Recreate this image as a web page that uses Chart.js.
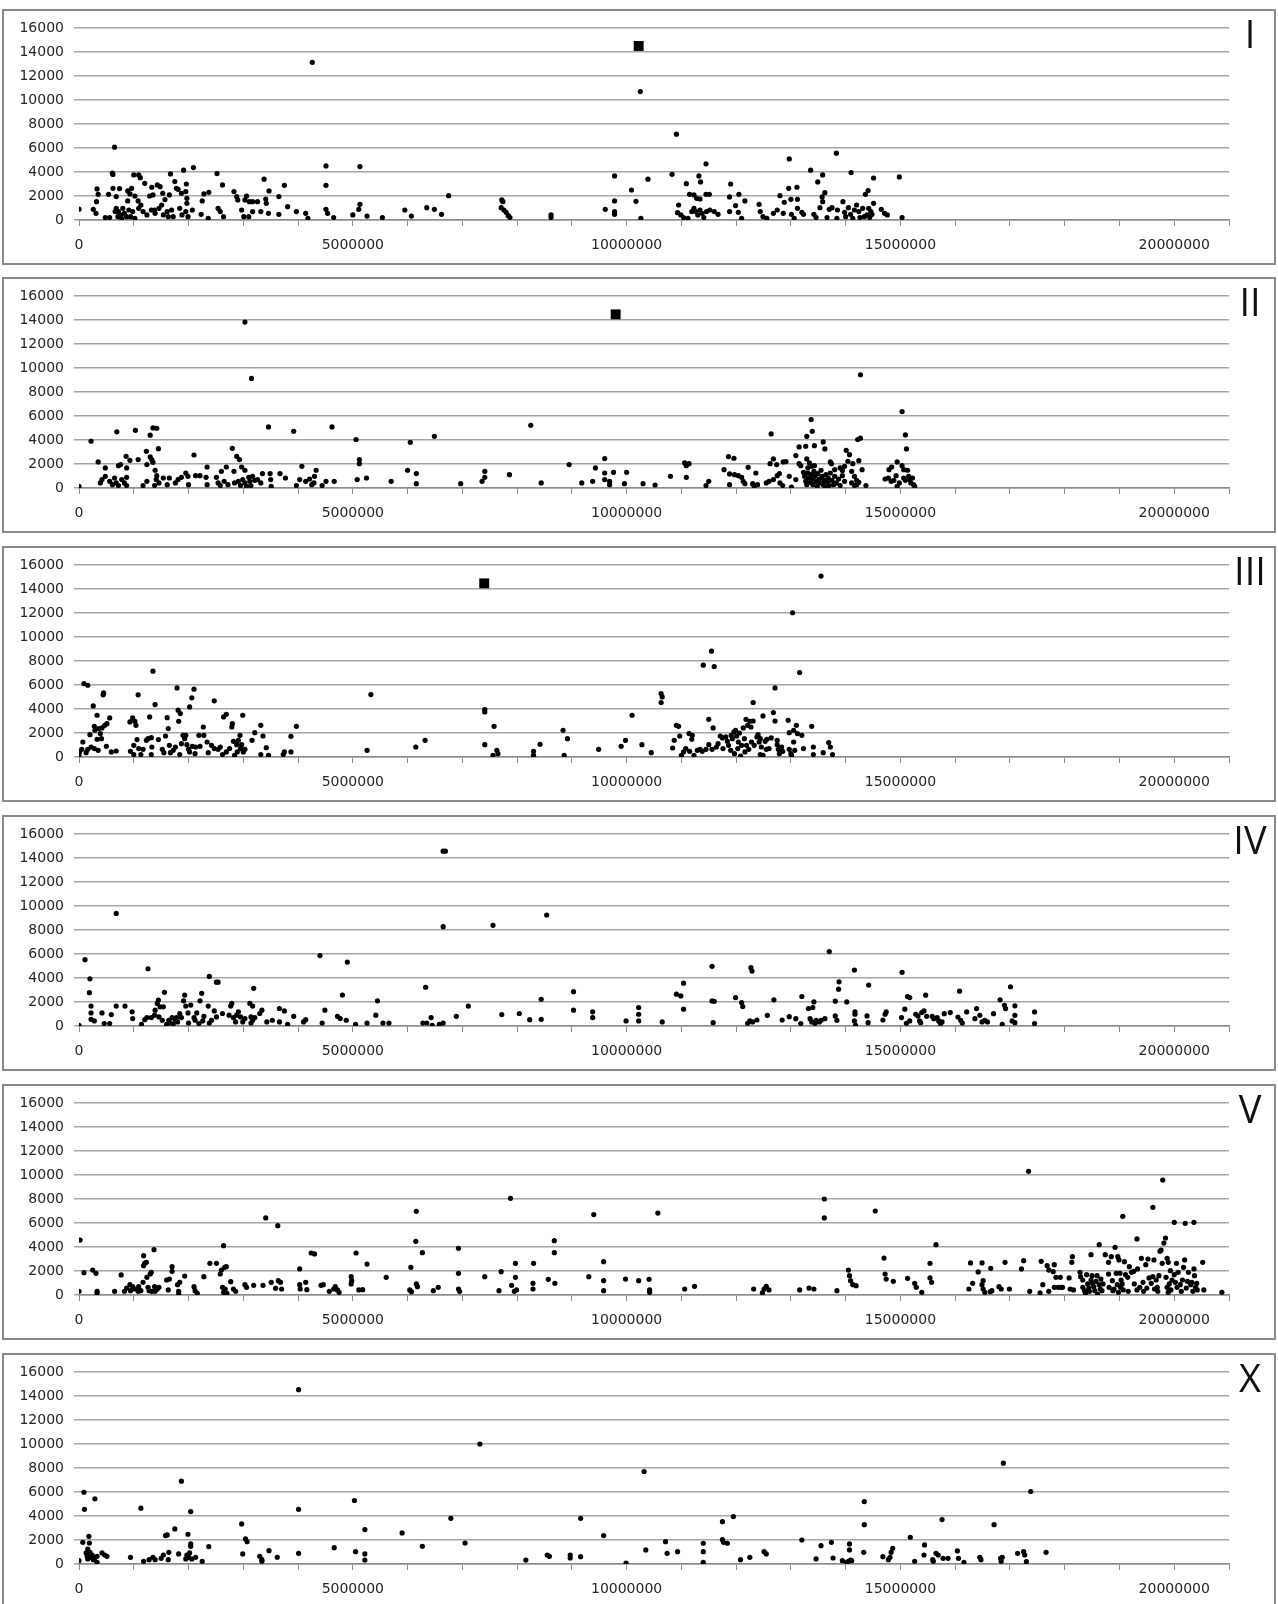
<!DOCTYPE html>
<html>
<head>
<meta charset="utf-8">
<script src="https://cdn.jsdelivr.net/npm/chart.js@4.4.0/dist/chart.umd.min.js"></script>
<style>
  body { margin: 0; background: #fff; width: 1278px; height: 1604px; position: relative; overflow: hidden; }
  .box { position: absolute; left: 2px; width: 1274px; height: 256px; box-sizing: border-box; border: 2px solid #8a8a8a; }
  canvas.plot { position: absolute; left: 3px; }
  .tag { position: absolute; left: 1215px; width: 70px; text-align: center; font-family: "Open Sans", sans-serif;
         font-size: 38px; line-height: 38px; color: #111; }
</style>
</head>
<body>
<script>
// positions are in megabases (Mb)
const xLabels = [0, 5000000, 10000000, 15000000, 20000000];
const yTicks = [0, 2000, 4000, 6000, 8000, 10000, 12000, 14000, 16000];
const panelNames = ['I', 'II', 'III', 'IV', 'V', 'X'];

const chrI = [
  [0,900],[0.65,6070],[0.61,3900],[0.62,3800],[0.33,2590],[0.35,2140],[0.32,1530],[0.26,890],[0.31,560],[0.48,200],[0.56,200],[0.54,2140],[0.62,2640],[0.68,1950],[0.74,2620],
  [0.68,970],[0.72,700],[0.76,420],[0.8,970],[0.83,560],[0.87,280],[0.71,280],[0.78,140],[0.91,835],[0.94,280],[0.98,700],[1.02,140],[0.66,700],
  [0.89,2420],[0.93,2170],[0.89,1590],[0.96,2640],[1.0,3760],[1.09,3760],[1.12,3530],[1.02,2000],[1.08,1590],[1.13,1250],[1.09,970],[1.2,3060],[1.29,2000],[1.35,2090],[1.33,2730],[1.43,2920],[1.48,2780],[1.53,2230],[1.51,1250],[1.57,1700],[1.65,2090],[1.67,3840],[1.75,3200],[1.78,2640],[1.81,2560],[1.87,2230],[1.91,4150],[1.96,3000],[1.95,2370],[1.97,1810],[1.97,1390],[2.09,4370],[2.07,835],
  [1.17,700],[1.24,420],[1.32,835],[1.39,560],[1.46,970],[1.54,420],[1.61,700],[1.69,835],[1.72,280],[1.84,970],[1.88,420],[1.95,700],[1.99,280],[1.38,835],[1.63,280],
  [2.25,1590],[2.28,2170],[2.37,2310],[2.23,470],[2.36,140],[2.52,3870],[2.62,2920],[2.54,970],[2.58,700],[2.64,280],[2.83,2370],[2.88,1950],[2.9,1670],[2.97,835],[3.01,280],[3.03,1670],[3.06,2000],[3.11,1530],[3.17,1530],[3.26,1530],[3.1,280],[3.17,700],[3.32,700],[3.38,3400],[3.41,1750],[3.42,1390],[3.47,2420],[3.46,560],[3.65,1950],[3.65,470],[3.75,2890],[3.81,1110],[3.97,700],[4.14,560],[4.18,140],[4.26,13140],
  [4.51,4510],[4.51,2890],[4.51,890],[4.54,560],[4.65,200],[5.0,420],[5.11,890],[5.13,1310],[5.13,4450],[5.26,330],[5.54,200],[5.95,835],[6.07,330],[6.35,1030],[6.49,890],[6.62,470],[6.75,2030],
  [7.72,1670],[7.74,1530],[7.71,1030],[7.76,835],[7.8,640],[7.84,360],[7.87,200],[8.62,420],[8.62,200],[9.61,890],[9.78,3670],[9.78,1590],[9.78,700],[9.78,470],[10.09,2500],[10.17,1560],[10.25,10700],[10.26,140],[10.39,3400],
  [10.91,7150],[10.83,3810],[10.95,1250],[10.93,610],[10.99,420],[11.04,200],[11.09,3030],[11.15,2140],[11.23,2090],[11.28,1810],[11.32,3670],[11.35,3170],[11.45,4680],[11.45,2140],[11.51,2140],[11.34,1750],[11.23,970],[11.26,700],[11.3,420],[11.34,835],[11.38,560],[11.41,200],[11.46,700],[11.52,835],[11.6,700],[11.67,470],[11.19,700],[11.12,140],
  [11.9,3000],[11.88,1920],[11.99,1200],[12.05,2140],[12.16,1590],[11.88,700],[12.04,640],[12.1,140],[12.42,1310],[12.44,700],[12.49,280],[12.56,140],[12.68,560],[12.75,835],[12.8,2030],[12.88,1480],[12.86,560],[12.97,5090],[12.96,2640],[13.0,1725],[13.11,2730],[13.12,1725],[13.06,140],[13.01,470],[13.12,970],[13.2,640],[13.23,470],
  [13.36,4150],[13.49,3170],[13.58,3760],[13.57,1920],[13.62,2280],[13.58,1530],[13.53,1030],[13.42,470],[13.46,200],[13.66,200],[13.7,890],[13.75,1030],[13.83,5570],[13.85,835],[13.84,140],[13.95,1530],[13.98,640],[14.05,1030],[14.1,3950],[14.09,470],[14.16,835],[14.2,1250],[14.24,700],[14.31,970],[14.36,2140],[14.41,2450],[14.39,420],[14.42,970],[14.51,3500],[14.51,1390],[14.46,700],[14.65,890],[14.71,560],[14.76,420],[14.98,3590],[15.03,200],
  [14.0,280],[14.13,140],[14.26,200],[14.34,280],[14.44,200],[14.48,470]
];
const chrII = [
  [0,140],[0.22,3900],[0.35,2170],[0.39,420],[0.42,700],[0.48,970],[0.48,1670],[0.56,560],[0.61,280],[0.65,835],[0.69,4680],[0.72,1860],[0.76,1950],[0.68,420],[0.72,200],[0.78,700],[0.83,420],[0.86,2640],[0.87,1670],[0.87,890],[0.87,200],[0.93,2310],[1.03,4810],[1.08,2370],[1.17,200],[1.23,3060],[1.24,1950],[1.24,560],[1.3,4400],[1.3,2590],[1.33,2370],[1.35,5010],[1.35,2140],[1.39,1480],[1.42,4980],[1.45,3280],[1.42,1030],[1.38,200],[1.41,700],[1.46,420],
  [1.54,835],[1.61,280],[1.65,835],[1.76,420],[1.81,700],[1.87,890],[1.95,1250],[1.99,970],[2.0,280],[2.1,2750],[2.13,1030],[2.21,1030],[2.34,1750],[2.34,280],[2.32,890],[2.51,890],[2.54,420],[2.6,1390],[2.69,1750],[2.58,200],[2.65,560],[2.72,280],[2.8,3310],[2.83,1390],[2.88,2640],[2.93,2370],[2.97,1750],[3.03,1480],[3.03,13830],[3.15,9130],
  [2.84,420],[2.91,560],[2.95,200],[2.99,700],[3.03,420],[3.06,140],[3.1,890],[3.12,560],[3.14,200],[3.17,970],[3.21,640],[3.26,700],[3.32,420],[3.35,1200],[3.46,5090],[3.49,1200],[3.5,700],[3.51,140],[3.67,1200],[3.77,835],[3.92,4730],[3.97,200],[4.03,700],[4.07,1810],[4.14,560],[4.21,750],[4.25,280],[4.29,420],[4.33,1480],[4.3,970],[4.44,200],[4.51,560],[4.62,5090],[4.66,560],
  [5.06,4040],[5.08,700],[5.12,2370],[5.12,2030],[5.25,835],[5.7,560],[6.0,1480],[6.05,3810],[6.16,1200],[6.16,360],[6.49,4310],[6.97,360],[7.36,560],[7.41,1390],[7.41,890],[7.86,1110],[8.25,5230],[8.44,420],[8.95,1950],[9.18,420],[9.38,560],[9.43,1670],[9.6,2450],[9.6,1250],[9.6,700],[9.69,560],[9.69,280],[9.76,1310],[9.96,360],[10.0,1310],
  [10.3,360],[10.52,250],[10.8,970],[11.06,2090],[11.09,1860],[11.14,2030],[11.09,890],[11.45,200],[11.5,560],[11.78,1530],[11.86,2620],[11.96,2480],[11.88,1170],[11.88,280],[11.97,1110],[12.04,1030],[12.1,890],[12.13,560],[12.16,360],[12.22,1725],[12.3,360],[12.33,140],[12.36,1250],[12.39,280],
  [12.55,420],[12.6,560],[12.64,4510],[12.62,2030],[12.68,2420],[12.74,1950],[12.68,700],[12.75,1030],[12.79,1200],[12.8,420],[12.85,200],[12.86,2170],[12.91,2200],[12.97,970],[13.01,80],[13.09,2700],[13.15,3420],[13.15,2030],[13.18,1860],[13.09,700],[13.23,1310],[13.29,4310],[13.27,3480],[13.29,2420],[13.31,1670],[13.37,5710],[13.39,4730],[13.43,3530],[13.34,2090],[13.38,1810],[13.43,1860],
  [13.25,970],[13.27,560],[13.29,280],[13.31,1250],[13.32,835],[13.35,470],[13.37,1110],[13.38,700],[13.4,280],[13.42,1390],[13.44,970],[13.46,560],[13.48,140],[13.49,1200],[13.52,750],[13.53,420],[13.55,1480],[13.57,970],[13.59,280],[13.61,640],[13.63,80],[13.64,1110],[13.67,470],[13.68,835],[13.7,200],[13.72,1250],[13.75,640],[13.78,280],[13.8,970],[13.83,420],[13.87,750],[13.9,200],[13.94,1030],[13.98,560],
  [13.59,3840],[13.62,3260],[13.72,2170],[13.74,2030],[13.8,1530],[13.9,1670],[13.94,1450],[13.98,1810],[14.01,3140],[14.07,2780],[14.04,2230],[14.11,1390],[14.13,2030],[14.16,970],[14.2,640],[14.22,4040],[14.27,4150],[14.24,2280],[14.27,9430],[14.3,1530],[14.11,420],[14.16,200],[14.2,280],[14.24,470],[14.37,200],
  [14.72,750],[14.78,835],[14.79,1530],[14.84,1750],[14.83,560],[14.88,640],[14.94,2170],[14.92,1030],[14.94,140],[14.98,420],[15.03,6370],[15.03,1860],[15.06,1530],[15.06,835],[15.09,4420],[15.11,3260],[15.09,640],[15.13,1480],[15.15,970],[15.17,700],[15.19,420],[15.22,835],[15.24,280],[15.26,140]
];
const chrIII = [
  [0,140],[0.01,420],[0.05,640],[0.07,1250],[0.09,6120],[0.13,360],[0.16,5980],[0.16,640],[0.2,1860],[0.22,835],[0.26,4260],[0.28,700],[0.28,2560],[0.29,2230],[0.33,3480],[0.33,1480],[0.35,560],[0.36,2370],[0.39,1950],[0.41,1530],[0.42,2420],[0.44,5180],[0.45,5340],[0.47,2640],[0.51,2780],[0.5,890],[0.56,3260],[0.59,420],[0.68,500],
  [0.93,2920],[0.98,3260],[1.0,970],[1.02,2980],[1.04,2640],[0.94,470],[1.0,200],[1.06,1450],[1.08,5180],[1.09,700],[1.13,200],[1.17,640],[1.23,1390],[1.26,1530],[1.29,3340],[1.32,1610],[1.35,7150],[1.39,4370],[1.33,835],[1.32,200],[1.45,1450],[1.52,640],[1.55,360],[1.58,1750],[1.61,3280],[1.63,2370],[1.65,970],[1.67,360],[1.72,560],[1.76,835],
  [1.79,5760],[1.81,3900],[1.82,2980],[1.85,3620],[1.84,200],[1.87,1110],[1.9,1810],[1.93,1530],[1.95,1810],[1.97,1030],[2.0,640],[2.02,4170],[2.02,420],[2.06,4930],[2.1,5650],[2.07,890],[2.12,280],[2.13,835],[2.19,1810],[2.21,890],[2.27,2500],[2.28,1810],[2.34,1250],[2.36,360],[2.42,970],[2.47,4680],[2.47,700],[2.54,640],[2.58,835],[2.62,200],
  [2.64,3340],[2.69,3560],[2.69,420],[2.75,700],[2.79,2500],[2.8,2780],[2.82,1310],[2.84,140],[2.88,1030],[2.89,420],[2.91,1390],[2.94,1810],[2.95,700],[2.97,1030],[2.99,3480],[3.0,420],[3.03,640],[3.16,1390],[3.21,2030],[3.32,200],[3.32,2640],[3.36,1750],[3.42,780],[3.46,140],[3.73,200],[3.75,420],[3.87,1725],[3.87,420],[3.97,2560],
  [5.26,560],[5.33,5200],[6.15,835],[6.32,1390],[7.41,3950],[7.41,3760],[7.41,1030],[7.58,2560],[7.56,140],[7.63,560],[7.65,280],[8.3,470],[8.3,140],[8.42,1060],[8.84,2230],[8.92,1530],[8.86,140],[9.49,640],[9.9,890],[10.1,3480],[9.98,1390],
  [10.28,1030],[10.45,360],[10.63,5290],[10.63,4540],[10.65,5010],[10.84,750],[10.87,1390],[10.91,2640],[10.95,2560],[10.97,1750],[11.0,140],[11.04,420],[11.08,700],[11.14,1950],[11.15,470],[11.19,1480],[11.2,1810],[11.23,140],[11.29,560],[11.34,640],[11.4,7650],[11.38,470],[11.45,640],[11.5,3140],[11.5,1030],[11.55,8820],[11.58,2420],[11.6,7540],[11.56,640],
  [11.64,835],[11.67,1110],[11.71,1750],[11.75,1590],[11.76,700],[11.81,1670],[11.84,1310],[11.86,970],[11.9,560],[11.91,1810],[11.93,1530],[11.96,2090],[11.97,280],[11.99,2230],[12.01,1750],[12.03,700],[12.04,1250],[12.06,2000],[12.08,80],[12.1,970],[12.13,2420],[12.15,1530],[12.16,420],[12.18,3140],[12.19,970],[12.21,2640],[12.23,640],[12.25,2980],[12.27,2500],[12.28,1250],[12.31,4540],[12.31,3000],[12.33,970],
  [12.38,1670],[12.4,1860],[12.42,1250],[12.44,1530],[12.46,835],[12.44,200],[12.49,3420],[12.49,140],[12.53,1310],[12.55,640],[12.56,1480],[12.6,700],[12.64,1590],[12.68,3700],[12.71,5760],[12.71,3000],[12.75,1390],[12.75,1030],[12.77,640],[12.79,280],[12.83,835],[12.85,470],[12.95,3060],[12.97,2030],[12.97,640],[13.0,280],[13.01,140],[13.03,12020],[13.05,2230],[13.05,1250],[13.07,560],[13.1,2640],[13.12,1950],[13.16,7040],[13.2,1810],[13.23,700],
  [13.38,2560],[13.41,835],[13.41,200],[13.55,15080],[13.59,360],[13.69,1200],[13.72,835],[13.76,200]
];
const chrIV = [
  [0,60],[0.11,5530],[0.2,3930],[0.19,2780],[0.22,1660],[0.22,1090],[0.22,560],[0.28,420],[0.42,1090],[0.46,200],[0.56,200],[0.59,950],[0.68,9380],[0.68,1660],[0.84,1660],[0.97,1180],[0.98,620],[1.14,140],[1.2,530],[1.24,700],[1.26,4770],[1.32,700],[1.38,900],[1.39,1320],[1.43,1880],[1.45,2160],[1.46,760],[1.48,1600],[1.52,480],[1.54,1600],[1.56,2810],[1.6,140],[1.64,480],[1.67,250],[1.7,700],[1.72,140],[1.76,480],[1.78,700],[1.8,340],[1.84,1040],[1.87,700],
  [1.91,2100],[1.93,2580],[1.95,1660],[1.99,1090],[2.0,250],[2.04,1740],[2.1,700],[2.12,480],[2.15,1090],[2.19,200],[2.21,2100],[2.24,2720],[2.26,420],[2.28,810],[2.36,1660],[2.38,4130],[2.38,250],[2.42,480],[2.51,3650],[2.54,3650],[2.47,1260],[2.51,760],[2.62,1040],[2.74,900],[2.77,1660],[2.79,1880],[2.82,700],[2.86,340],[2.88,900],[2.91,1180],[2.95,760],[2.99,340],[3.03,620],
  [3.12,1880],[3.14,760],[3.14,250],[3.17,1660],[3.19,3140],[3.17,480],[3.21,700],[3.3,1040],[3.34,1320],[3.43,340],[3.53,480],[3.66,1460],[3.66,340],[3.75,1260],[3.81,140],[3.92,810],[4.1,340],[4.14,530],[4.4,5870],[4.44,250],[4.49,1320],[4.72,810],[4.77,620],[4.81,2580],[4.88,480],[4.9,5330],[5.05,140],[5.26,250],[5.42,900],[5.45,2100],[5.55,250],[5.66,250],
  [6.28,250],[6.33,3230],[6.35,250],[6.43,700],[6.45,60],[6.58,140],[6.65,250],[6.65,14570],[6.69,14570],[6.65,8280],[6.89,810],[7.11,1660],[7.56,8390],[7.72,950],[8.04,1040],[8.23,530],[8.44,2220],[8.44,560],[8.54,9240],[9.03,2860],[9.03,1320],[9.38,1180],[9.38,700],[9.99,420],
  [10.22,1540],[10.22,980],[10.22,420],[10.65,340],[10.91,2650],[10.99,2510],[11.04,3570],[11.04,1400],[11.56,4970],[11.56,2090],[11.6,2060],[11.58,280],[11.99,2370],[12.1,1950],[12.12,1620],[12.27,4860],[12.29,4580],[12.21,220],[12.25,420],[12.3,340],[12.38,500],[12.57,890],[12.69,2180],[12.84,500],[12.97,780],[13.09,610],[13.2,2460],[13.18,200],
  [13.32,1450],[13.35,610],[13.4,1540],[13.42,2010],[13.38,340],[13.44,200],[13.46,470],[13.52,340],[13.55,470],[13.62,610],[13.7,6200],[13.81,2070],[13.81,840],[13.84,470],[13.87,3070],[13.88,3680],[14.02,2010],[14.16,4660],[14.17,1170],[14.17,980],[14.16,420],[14.18,60],[14.42,3410],[14.39,840],[14.41,280],[14.68,500],[14.72,980],[14.74,1170],
  [15.03,4470],[15.02,700],[15.08,1400],[15.13,2460],[15.17,2370],[15.11,220],[15.17,420],[15.28,980],[15.32,840],[15.35,420],[15.37,280],[15.39,1120],[15.43,1260],[15.46,2570],[15.48,810],[15.58,810],[15.61,610],[15.67,700],[15.7,420],[15.73,200],[15.76,340],[15.8,1030],[15.91,1120],
  [16.05,750],[16.08,2900],[16.1,470],[16.13,250],[16.21,1170],[16.36,610],[16.39,1450],[16.45,890],[16.49,340],[16.54,470],[16.59,340],[16.7,1030],[16.82,2180],[16.86,140],[16.9,1730],[16.92,1450],[17.01,3270],[17.09,1680],[17.09,890],[17.09,280],[17.04,420],[17.45,1170],[17.45,200]
];
const chrV = [
  [0,310],[0.02,4580],[0.09,1860],[0.25,2080],[0.31,1810],[0.33,310],[0.33,140],[0.65,310],[0.77,1670],[0.83,310],[0.87,580],[0.93,860],[0.94,360],[0.98,690],[1.02,500],[1.08,310],[1.09,690],[1.13,360],[1.17,1060],[1.18,3280],[1.18,2440],[1.2,2640],[1.23,2720],[1.24,1470],[1.26,640],[1.28,360],[1.3,1750],[1.32,1890],[1.33,310],[1.37,3780],[1.38,690],[1.39,310],[1.43,500],[1.46,640],
  [1.6,1250],[1.63,420],[1.65,1330],[1.7,2360],[1.7,1970],[1.8,860],[1.82,310],[1.84,1060],[1.82,80],[1.93,1580],[2.1,690],[2.12,360],[2.16,140],[2.28,1530],[2.39,2640],[2.51,2640],[2.58,1750],[2.6,2080],[2.64,4110],[2.66,2310],[2.69,2360],[2.62,640],[2.64,220],[2.67,500],[2.7,140],[2.77,1110],[2.82,500],[2.86,310],
  [3.03,860],[3.06,640],[3.19,810],[3.36,810],[3.41,6420],[3.51,1060],[3.59,560],[3.63,5780],[3.64,1190],[3.68,1060],[3.7,500],[4.03,2170],[4.03,860],[4.04,500],[4.14,1060],[4.16,440],[4.24,3500],[4.3,3420],[4.42,810],[4.46,860],[4.57,310],[4.65,500],[4.68,690],[4.72,420],[4.75,220],
  [4.97,1530],[4.98,1190],[4.97,920],[5.06,3500],[5.11,420],[5.18,440],[5.26,2580],[5.61,1470],[6.04,420],[6.06,2310],[6.07,280],[6.15,4470],[6.16,6970],[6.16,920],[6.18,690],[6.27,3530],[6.47,360],[6.56,640],[6.93,3890],[6.93,1810],[6.93,500],[6.95,310],
  [7.41,1530],[7.67,360],[7.71,1940],[7.88,8060],[7.9,810],[7.95,310],[7.97,2640],[7.97,1470],[7.99,420],[8.3,2640],[8.29,970],[8.29,500],[8.57,1310],[8.68,4530],[8.68,3530],[8.69,970],[9.31,1530],[9.4,6700],[9.58,2780],[9.58,1190],[9.58,360],[9.98,1330],
  [10.22,1190],[10.41,1310],[10.42,420],[10.42,220],[10.57,6830],[11.06,500],[11.24,720],[12.32,500],[12.48,170],[12.51,500],[12.55,720],[12.6,420],[13.16,420],[13.33,580],[13.42,500],[13.61,8000],[13.61,6420],[13.84,360],[14.05,2080],[14.07,1610],[14.09,1190],[14.13,860],[14.19,780],[14.54,7000],
  [14.7,3080],[14.72,1750],[14.74,1330],[14.87,1140],[15.13,1390],[15.26,970],[15.29,640],[15.39,220],[15.54,2640],[15.54,1420],[15.57,1060],[15.65,4190],
  [16.25,500],[16.28,2670],[16.32,970],[16.42,1920],[16.49,2670],[16.51,1190],[16.49,860],[16.51,500],[16.54,220],[16.64,280],[16.65,2220],[16.67,360],[16.8,690],[16.84,500],[16.91,2720],[16.99,500],[17.21,2170],[17.25,2860],[17.34,10310],[17.36,310],[17.55,170],[17.57,2810],[17.6,860],[17.68,2440],[17.71,2080],[17.71,310],
  [17.79,1940],[17.81,2530],[17.84,1470],[17.81,640],[17.88,640],[17.93,640],[17.96,640],[17.92,1470],[18.08,1420],[18.1,500],[18.13,2720],[18.14,3190],[18.16,420],[18.28,1890],[18.29,1530],[18.33,1250],[18.33,640],[18.36,360],[18.38,140],[18.4,1690],[18.42,920],[18.44,580],[18.45,310],[18.48,1250],[18.48,3360],
  [18.5,1610],[18.51,970],[18.53,690],[18.55,360],[18.57,1140],[18.59,1610],[18.6,80],[18.63,4190],[18.63,860],[18.65,500],[18.66,1330],[18.68,360],[18.7,920],[18.74,3360],[18.8,2720],[18.8,1750],[18.81,640],[18.85,3190],[18.87,1190],[18.88,360],[18.9,500],[18.92,3970],[18.94,1810],[18.96,860],[18.97,3190],[18.98,220],[18.99,2920],
  [19.01,1810],[19.02,640],[19.03,1250],[19.05,920],[19.06,6560],[19.07,420],[19.09,2780],[19.11,1690],[19.15,1470],[19.16,310],[19.18,2360],[19.22,1890],[19.26,1970],[19.27,920],[19.32,4670],[19.32,420],[19.33,2170],[19.37,640],[19.4,3060],[19.43,1060],[19.44,310],[19.48,2530],[19.5,580],[19.52,3000],[19.54,1420],[19.58,970],
  [19.61,7310],[19.61,1530],[19.63,2920],[19.64,500],[19.67,1250],[19.69,640],[19.7,310],[19.72,1610],[19.74,3640],[19.76,3750],[19.78,2640],[19.79,9580],[19.81,4330],[19.84,4750],[19.85,1470],[19.87,3060],[19.87,640],[19.89,2720],[19.89,220],[19.91,920],[19.93,2030],[19.94,420],[19.96,1250],
  [20.0,6060],[20.0,1690],[20.02,1060],[20.04,2640],[20.05,640],[20.07,1890],[20.11,860],[20.13,310],[20.15,1250],[20.17,2310],[20.19,2920],[20.2,5970],[20.22,580],[20.24,1140],[20.26,1890],[20.3,860],[20.32,1060],[20.34,310],[20.36,6060],[20.36,2170],[20.37,1610],[20.39,640],[20.41,970],[20.42,420],[20.52,2720],[20.54,420],[20.87,220]
];
const chrX = [
  [0,280],[0.07,1810],[0.09,5980],[0.1,4560],[0.13,920],[0.15,640],[0.16,1250],[0.16,420],[0.18,2310],[0.19,1750],[0.2,970],[0.22,560],[0.24,750],[0.26,360],[0.29,5430],[0.3,560],[0.33,140],[0.33,640],[0.42,920],[0.47,750],[0.51,640],
  [0.94,560],[1.13,4650],[1.18,220],[1.28,360],[1.35,560],[1.39,360],[1.5,470],[1.54,750],[1.58,2370],[1.61,2420],[1.63,360],[1.64,970],[1.75,2920],[1.82,840],[1.87,6900],[1.95,420],[1.97,750],[1.99,2480],[2.0,560],[2.02,920],[2.04,4370],[2.04,1670],[2.04,1470],[2.06,420],[2.13,560],[2.25,220],[2.37,1450],
  [2.97,3340],[2.99,840],[3.04,2090],[3.07,1860],[3.3,640],[3.34,220],[3.34,360],[3.47,1110],[3.62,560],[4.01,14530],[4.01,4560],[4.01,890],[4.66,1360],[5.03,5290],[5.05,1030],[5.22,2870],[5.22,840],[5.22,330],[5.9,2590],[6.27,1470],[6.79,3810],[7.05,1750],[7.32,9990],
  [8.16,330],[8.55,750],[8.59,640],[8.97,750],[8.97,500],[9.16,3810],[9.16,610],[9.58,2370],[9.99,80],
  [10.32,7710],[10.35,1170],[10.71,1860],[10.74,890],[10.93,1030],[11.4,1730],[11.4,1030],[11.4,140],[11.75,3530],[11.75,2030],[11.77,1810],[11.84,1730],[11.95,3950],[12.08,360],[12.25,560],[12.51,1030],[12.55,840],
  [13.2,2000],[13.46,420],[13.55,1530],[13.74,1810],[13.77,500],[13.94,280],[14.02,140],[14.05,220],[14.07,1670],[14.07,1170],[14.09,330],[14.11,280],[14.34,5200],[14.34,3280],[14.33,970],[14.68,610],[14.78,360],[14.81,560],[14.83,970],[14.86,1310],
  [15.18,2230],[15.26,220],[15.43,750],[15.44,1590],[15.59,360],[15.6,220],[15.65,890],[15.69,750],[15.76,3700],[15.78,470],[15.87,470],[16.04,1090],[16.06,470],[16.16,140],[16.45,560],[16.47,360],[16.71,3280],[16.83,470],[16.84,220],[16.86,560],[16.88,8400],
  [17.14,890],[17.25,1030],[17.27,750],[17.3,190],[17.38,6040],[17.66,970]
];
// the large square markers
const markI = [[10.22, 14500]];
const markII = [[9.8, 14470]];
const markIII = [[7.4, 14470]];

const panelTops = [9, 277, 546, 815, 1084, 1353];
const panelDots = [chrI, chrII, chrIII, chrIV, chrV, chrX];
const panelMarks = [markI, markII, markIII, [], [], []];

Chart.defaults.font.family = '"DejaVu Sans", sans-serif';
Chart.defaults.font.size = 14;
Chart.defaults.color = '#262626';

function toPoints(list) {
    return list.map(p => ({ x: p[0] * 1000000, y: p[1] }));
}

function buildPanel(i) {
    const top = panelTops[i];

    const box = document.createElement('div');
    box.className = 'box';
    box.style.top = top + 'px';
    document.body.appendChild(box);

    const canvas = document.createElement('canvas');
    canvas.className = 'plot';
    canvas.width = 1272;
    canvas.height = 256;
    canvas.style.top = top + 'px';
    document.body.appendChild(canvas);

    const tag = document.createElement('div');
    tag.className = 'tag';
    tag.style.top = (top + 5) + 'px';
    tag.textContent = panelNames[i];
    document.body.appendChild(tag);

    new Chart(canvas.getContext('2d'), {
        type: 'scatter',
        data: {
            datasets: [{
                data: toPoints(panelDots[i]),
                backgroundColor: '#000',
                borderWidth: 0,
                pointRadius: 2.6
            }, {
                data: toPoints(panelMarks[i]),
                backgroundColor: '#000',
                borderWidth: 0,
                pointStyle: 'rect',
                pointRadius: 7
            }]
        },
        options: {
            responsive: false,
            animation: false,
            devicePixelRatio: 1,
            events: [],
            layout: { padding: { top: 19, right: 46, left: 0, bottom: 0 } },
            plugins: { legend: { display: false }, tooltip: { enabled: false } },
            scales: {
                x: {
                    type: 'linear',
                    min: 0,
                    max: 21000000,
                    afterFit: s => { s.height = 45; },
                    ticks: {
                        stepSize: 1000000,
                        autoSkip: false,
                        maxRotation: 0,
                        padding: 11,
                        callback: v => xLabels.includes(v) ? String(v) : ''
                    },
                    grid: { drawOnChartArea: false, tickLength: 6, color: '#8c8c8c' },
                    border: { display: true, color: '#8c8c8c', width: 1.5 }
                },
                y: {
                    min: 0,
                    max: 16000,
                    afterFit: s => { s.width = 76; },
                    afterBuildTicks: s => { s.ticks = yTicks.map(v => ({ value: v })); },
                    ticks: { padding: 10, callback: v => String(v) },
                    grid: { color: '#a6a6a6', lineWidth: 1.5, tickLength: 5 },
                    border: { display: false }
                }
            }
        }
    });
}

for (let i = 0; i < panelTops.length; i++) {
    buildPanel(i);
}
</script>
</body>
</html>
